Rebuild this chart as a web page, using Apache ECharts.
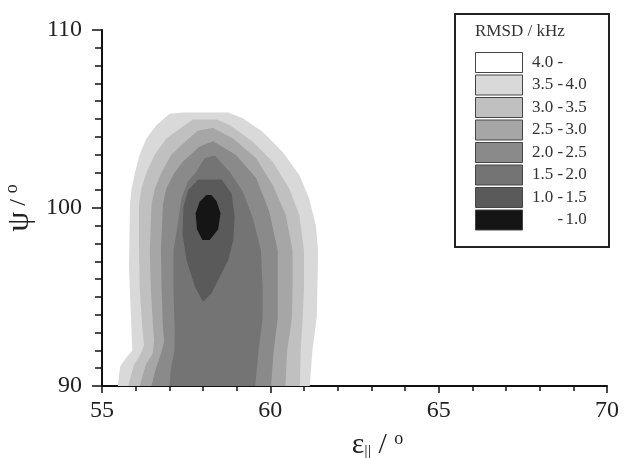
<!DOCTYPE html>
<html>
<head>
<meta charset="utf-8">
<script src="https://cdn.jsdelivr.net/npm/echarts@6/dist/echarts.min.js"></script>
<style>
  html, body { margin: 0; padding: 0; background: #fff; }
  #main { width: 626px; height: 458px; }
</style>
</head>
<body>
<div id="main"></div>
<script>
// level names, legend order (highest RMSD first)
var levelNames = ["4.0-", "3.5-4.0", "3.0-3.5", "2.5-3.0", "2.0-2.5", "1.5-2.0", "1.0-1.5", "-1.0"];
var levelColors = ["#ffffff", "#d9d9d9", "#c0c0c0", "#a6a6a6", "#8a8a8a", "#747474", "#5a5a5a", "#151515"];

// contour outlines [eps, psi]
var band40 = [ // RMSD < 4.0
  [55.47, 90], [55.54, 91.1], [55.74, 91.65], [55.9, 92.0], [55.86, 93.9], [55.8, 96.7], [55.81, 97.6],
  [55.83, 100.2], [55.88, 101.1], [55.98, 102.0], [56.12, 103.0], [56.32, 103.9], [56.62, 104.66],
  [57.01, 105.3], [57.4, 105.36], [58.75, 105.36], [59.18, 105.04], [59.77, 104.29], [60.36, 103.16],
  [60.86, 101.85], [61.15, 100.55], [61.35, 99.04], [61.42, 97.6], [61.38, 93.9], [61.25, 92.0], [61.17, 90]
];
var band35 = [ // RMSD < 3.5
  [55.78, 90], [55.95, 91.2], [56.15, 91.8], [56.25, 92.3], [56.2, 93.2], [56.12, 95.5], [56.1, 97.6],
  [56.1, 100.2], [56.17, 101.1], [56.32, 102.0], [56.57, 103.0], [56.91, 103.9], [57.31, 104.45],
  [57.7, 104.97], [58.4, 104.97], [58.79, 104.66], [59.48, 103.72], [60.07, 102.6], [60.56, 101.1],
  [60.86, 99.6], [61.0, 97.6], [61.0, 95.5], [60.96, 93.8], [60.9, 92.0], [60.88, 90]
];
var band30 = [ // RMSD < 3.0
  [56.12, 90], [56.3, 91.2], [56.5, 91.8], [56.55, 92.5], [56.52, 93.2], [56.45, 95.5], [56.42, 97.6],
  [56.47, 100.2], [56.57, 101.1], [56.77, 102.0], [57.06, 103.0], [57.4, 103.6], [57.85, 104.35],
  [58.3, 104.5], [58.88, 103.92], [59.58, 102.79], [60.07, 101.29], [60.46, 99.6], [60.66, 97.6],
  [60.66, 95.5], [60.64, 93.8], [60.5, 92.0], [60.45, 90]
];
var band25 = [ // RMSD < 2.5
  [56.47, 90], [56.6, 91.0], [56.75, 91.8], [56.85, 92.5], [56.81, 93.2], [56.77, 95.5], [56.75, 97.6],
  [56.81, 100.2], [56.91, 101.1], [57.16, 102.0], [57.4, 102.6], [57.9, 103.45], [58.3, 103.75],
  [58.98, 102.98], [59.58, 101.67], [59.97, 99.79], [60.22, 97.6], [60.22, 93.8], [60.1, 92.0], [60.02, 90]
];
var band20 = [ // RMSD < 2.0
  [57.0, 90], [57.05, 91.0], [57.15, 92.0], [57.16, 93.2], [57.12, 95.5], [57.12, 97.6], [57.26, 99.2],
  [57.36, 100.55], [57.55, 101.48], [57.8, 102.04], [58.05, 102.8], [58.35, 102.95], [58.79, 102.04],
  [59.18, 100.92], [59.48, 99.42], [59.72, 97.6], [59.77, 95.5], [59.77, 93.8], [59.65, 92.0], [59.55, 90]
];
var band15 = [ // RMSD < 1.5
  [57.86, 101.6], [58.55, 101.6], [58.85, 100.82], [58.94, 99.5], [58.9, 98.2], [58.75, 97.08],
  [58.5, 96.14], [58.25, 95.2], [58.0, 94.74], [57.76, 95.58], [57.51, 97.08], [57.39, 98.58],
  [57.42, 100.07], [57.56, 101.01]
];
var band10 = [ // RMSD < 1.0
  [58.1, 100.73], [58.25, 100.73], [58.4, 100.4], [58.52, 99.7], [58.45, 98.8], [58.2, 98.2],
  [57.98, 98.2], [57.82, 98.8], [57.78, 99.7], [57.9, 100.35]
];

var bands = [[], band40, band35, band30, band25, band20, band15, band10];

var xTicks = [55, 70, 5];   // min, max, interval
var yTicks = [90, 110, 10];

var serif = "'Liberation Serif', 'DejaVu Serif', serif";

function makeBand(i) {
  var pts = bands[i];
  return {
    name: levelNames[i],
    type: "custom",
    coordinateSystem: "cartesian2d",
    silent: true,
    encode: { x: 0, y: 1 },
    itemStyle: { color: levelColors[i] },
    data: pts,
    renderItem: function (params, api) {
      if (params.dataIndex !== 0) return null;
      var points = pts.map(function (p) { return api.coord(p); });
      return {
        type: "polygon",
        shape: { points: points },
        style: { fill: levelColors[i], stroke: null }
      };
    }
  };
}

var myChart = echarts.init(document.getElementById("main"));
var series = [];
for (var i = 0; i < levelNames.length; i++) series.push(makeBand(i));

var option = {
  animation: false,
  backgroundColor: "#fff",
  grid: { left: 102, right: 19, top: 30, bottom: 72, containLabel: false, outerBoundsMode: "none" },
  legend: {
    data: levelNames,
    orient: "vertical",
    left: 475,
    top: 52,
    padding: 0,
    itemWidth: 47,
    itemHeight: 20,
    itemGap: 1.5,
    icon: "rect",
    selectedMode: false,
    itemStyle: { borderColor: "#444", borderWidth: 1 },
    formatter: function (name) {
      var parts = name.split("-");
      return "{a|" + (parts[0] || " ") + "}{b|-}{c|" + (parts[1] || " ") + "}";
    },
    textStyle: {
      color: "#333",
      fontFamily: serif,
      fontSize: 17,
      rich: {
        a: { width: 30, align: "right", fontFamily: serif, fontSize: 17, color: "#333" },
        b: { fontFamily: serif, fontSize: 17, color: "#333" },
        c: { width: 26, align: "left", fontFamily: serif, fontSize: 17, color: "#333" }
      }
    }
  },
  graphic: [
    {
      type: "rect",
      shape: { x: 455, y: 14, width: 154, height: 233 },
      style: { fill: null, stroke: "#222", lineWidth: 2 },
      z: 100
    },
    {
      type: "text",
      left: 475,
      top: 23,
      style: { text: "RMSD / kHz", font: "17px " + serif, fill: "#333" },
      z: 100
    }
  ],
  xAxis: {
    type: "value",
    min: xTicks[0],
    max: xTicks[1],
    interval: xTicks[2],
    name: "ε{sub|||} / {sup|o}",
    nameLocation: "middle",
    nameGap: 44,
    nameTextStyle: {
      fontFamily: serif, fontSize: 30, color: "#222",
      padding: [0, 0, 0, 46],
      rich: {
        sub: { fontFamily: serif, fontSize: 17, color: "#222", verticalAlign: "bottom", padding: [14, 0, 0, 0] },
        sup: { fontFamily: serif, fontSize: 18, color: "#222", verticalAlign: "top", padding: [0, 0, 10, 0] }
      }
    },
    axisLine: { lineStyle: { color: "#111", width: 2 } },
    axisTick: { length: 7, lineStyle: { color: "#111", width: 1.5 } },
    minorTick: { show: true, splitNumber: 5, length: 5, lineStyle: { color: "#111", width: 1.5 } },
    splitLine: { show: false },
    axisLabel: { color: "#222", fontFamily: serif, fontSize: 24, margin: 13 }
  },
  yAxis: {
    type: "value",
    min: yTicks[0],
    max: yTicks[1],
    interval: yTicks[2],
    name: "{psi|ψ} / {sup|o}",
    nameLocation: "middle",
    nameRotate: 90,
    nameGap: 51,
    nameTextStyle: {
      fontFamily: serif, fontSize: 24, color: "#222",
      rich: {
        psi: { fontFamily: serif, fontSize: 32, color: "#222" },
        sup: { fontFamily: serif, fontSize: 18, color: "#222", verticalAlign: "top", padding: [0, 0, 10, 0] }
      }
    },
    axisLine: { lineStyle: { color: "#111", width: 2 } },
    axisTick: { length: 10, lineStyle: { color: "#111", width: 1.5 } },
    minorTick: { show: true, splitNumber: 10, length: 7, lineStyle: { color: "#111", width: 1.5 } },
    splitLine: { show: false },
    axisLabel: { color: "#222", fontFamily: serif, fontSize: 24, margin: 20 }
  },
  series: series
};
myChart.setOption(option);
</script>
</body>
</html>
